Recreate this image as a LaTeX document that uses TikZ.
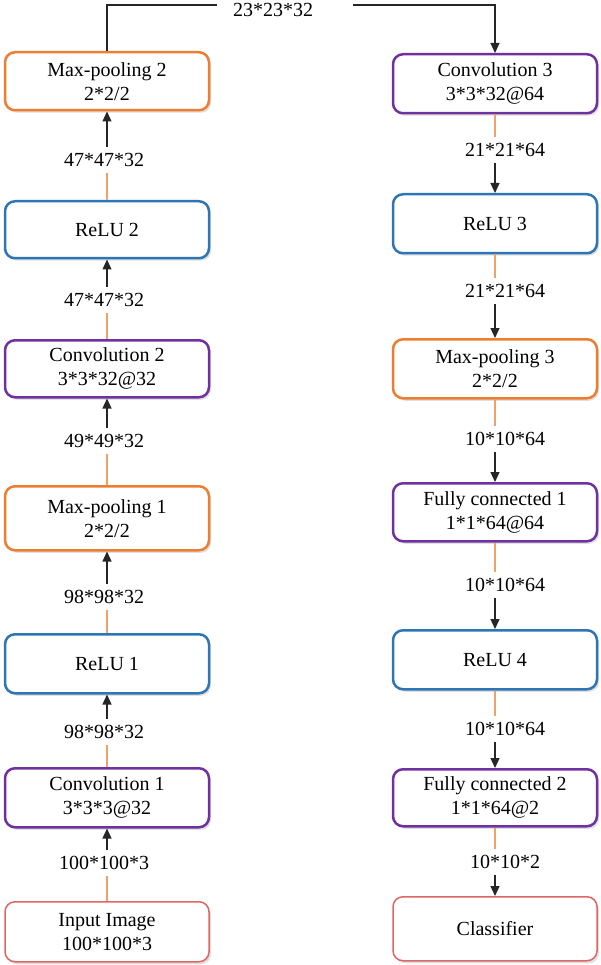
\documentclass[tikz,border=0pt]{standalone}
\usepackage{fontspec}
\setmainfont{Liberation Serif}
\usetikzlibrary{arrows.meta,shadows}
\definecolor{cOrange}{HTML}{ED7D31}
\definecolor{cPurple}{HTML}{7030A0}
\definecolor{cBlue}{HTML}{2E75B6}
\definecolor{cRed}{HTML}{E06666}
\definecolor{cLink}{HTML}{F0A06A}
\tikzset{
  box/.style={draw, rounded corners=10pt, fill=white, line width=2.5pt,
    minimum width=204pt, align=center, inner sep=0pt, anchor=north,
    font=\fontsize{20}{24}\selectfont,
    drop shadow={shadow xshift=2pt, shadow yshift=-2.5pt, opacity=0.25}},
  orgbox/.style={box, draw=cOrange},
  purbox/.style={box, draw=cPurple},
  blubox/.style={box, draw=cBlue},
  redbox/.style={box, draw=cRed, line width=1.5pt},
  lab/.style={inner xsep=2pt, inner ysep=6pt, font=\fontsize{20}{24}\selectfont},
  link/.style={draw=cLink, line width=1.4pt},
  blk/.style={draw=black!85, line width=1.2pt},
  arr/.style={blk, -{Triangle[length=10pt,width=9pt]}},
}
\begin{document}
\begin{tikzpicture}[x=1pt,y=-1pt]
\useasboundingbox (0,0) rectangle (600,965);
% left column
\node[orgbox, minimum height=58pt] (mp2)   at (107,51)  {Max-pooling 2\\2*2/2};
\node[blubox, minimum height=57pt] (relu2) at (107,200) {ReLU 2};
\node[purbox, minimum height=57pt] (conv2) at (107,339) {Convolution 2\\3*3*32@32};
\node[orgbox, minimum height=64pt] (mp1)   at (107,485) {Max-pooling 1\\2*2/2};
\node[blubox, minimum height=59pt] (relu1) at (107,633) {ReLU 1};
\node[purbox, minimum height=59pt] (conv1) at (107,767) {Convolution 1\\3*3*3@32};
\node[redbox, minimum height=60pt] (input) at (107,901) {Input Image\\100*100*3};
% right column
\node[purbox, minimum height=59pt] (conv3) at (495,53)  {Convolution 3\\3*3*32@64};
\node[blubox, minimum height=59pt] (relu3) at (495,193) {ReLU 3};
\node[orgbox, minimum height=59pt] (mp3)   at (495,338) {Max-pooling 3\\2*2/2};
\node[purbox, minimum height=58pt] (fc1)   at (495,482) {Fully connected 1\\1*1*64@64};
\node[blubox, minimum height=59pt] (relu4) at (495,629) {ReLU 4};
\node[purbox, minimum height=57pt] (fc2)   at (495,768) {Fully connected 2\\1*1*64@2};
\node[redbox, minimum height=64pt] (cls)   at (495,896) {Classifier};
% left labels
\node[lab] (l1) at (104,863) {100*100*3};
\node[lab] (l2) at (104,732) {98*98*32};
\node[lab] (l3) at (104,597) {98*98*32};
\node[lab] (l4) at (104,441) {49*49*32};
\node[lab] (l5) at (104,300) {47*47*32};
\node[lab] (l6) at (104,160) {47*47*32};
% right labels
\node[lab] (r1) at (505,150) {21*21*64};
\node[lab] (r2) at (505,291) {21*21*64};
\node[lab] (r3) at (505,439) {10*10*64};
\node[lab] (r4) at (505,585) {10*10*64};
\node[lab] (r5) at (505,729) {10*10*64};
\node[lab] (r6) at (505,862) {10*10*2};
% top link
\node[lab] (l0) at (273,10) {23*23*32};
\coordinate (tA) at (217,5);
\coordinate (tB) at (353,5);
\draw[blk] (mp2.north) |- (tA);
\draw[arr] (tB) -| (conv3.north);
% left links (upward)
\foreach \a/\l/\b in {input/l1/conv1, conv1/l2/relu1, relu1/l3/mp1, mp1/l4/conv2, conv2/l5/relu2, relu2/l6/mp2}{
  \draw[link] (\a.north) -- (\a.north |- \l.south);
  \draw[arr] (\l.north -| \b.south) -- (\b.south);
}
% right links (downward)
\foreach \a/\l/\b in {conv3/r1/relu3, relu3/r2/mp3, mp3/r3/fc1, fc1/r4/relu4, relu4/r5/fc2, fc2/r6/cls}{
  \draw[link] (\a.south) -- (\a.south |- \l.north);
  \draw[arr] (\l.south -| \b.north) -- (\b.north);
}
\end{tikzpicture}
\end{document}
